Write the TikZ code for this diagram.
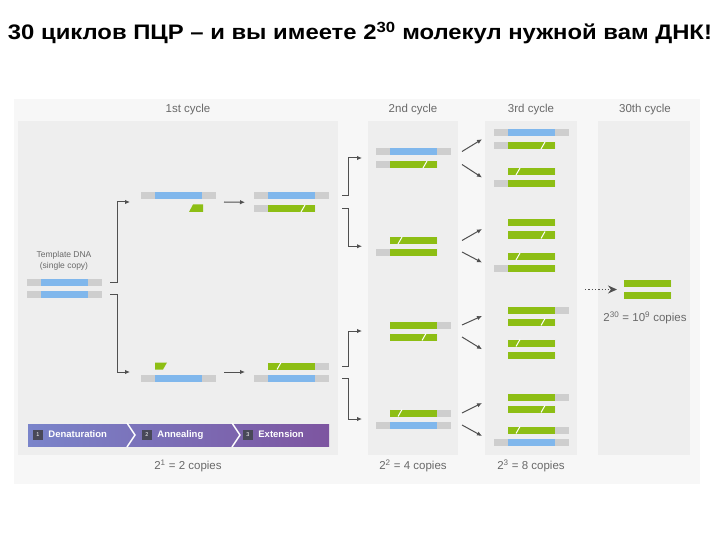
\documentclass[tikz,border=0pt]{standalone}
\usepackage{fontspec}
\setmainfont{Liberation Sans}
\usepackage{tikz}
\usetikzlibrary{arrows.meta, calc, positioning}

\definecolor{dnablue}{RGB}{128,183,236}
\definecolor{dnagreen}{RGB}{141,190,20}
\definecolor{padgray}{RGB}{206,206,206}
\definecolor{panelgray}{RGB}{238,238,238}
\definecolor{bggray}{RGB}{247,247,247}
\definecolor{textgray}{RGB}{105,105,105}
\definecolor{linkgray}{RGB}{80,80,80}
\definecolor{stepleft}{RGB}{122,132,202}
\definecolor{stepright}{RGB}{125,85,160}
\definecolor{stepnum}{RGB}{72,72,88}

\tikzset{
	link/.style={->, >={Latex[length=5pt, width=4.5pt]}, linkgray, line width=1pt},
	panel/.style={fill=panelgray},
	cyclelabel/.style={textgray, font=\fontsize{11.5}{13}\selectfont},
	steplabel/.style={white, font=\bfseries\fontsize{9.5}{11}\selectfont, anchor=west, inner sep=0pt, text height=7pt, text depth=2pt},
	stepnumber/.style={fill=stepnum, text=white, minimum size=10pt, inner sep=0pt, font=\fontsize{5.5}{6}\selectfont},
}

\begin{document}
\begin{tikzpicture}[x=1pt, y=-1pt]

\useasboundingbox (0,0) rectangle (720,540);

% strand: name, core x, y, colour, left pad, right pad
\newcommand{\strand}[6]{%
	\fill[padgray] ({#2-#5}, {#3-3.5}) rectangle (#2, {#3+3.5});
	\fill[padgray] ({#2+47}, {#3-3.5}) rectangle ({#2+47+#6}, {#3+3.5});
	\fill[#4] (#2, {#3-3.5}) rectangle ({#2+47}, {#3+3.5});
	\coordinate (#1-w) at ({#2-14}, #3);
	\coordinate (#1-e) at ({#2+61}, #3);
}
\newcommand{\nick}[2]{\draw[white, line width=1pt] ({#1-2}, {#2+3.5}) -- ({#1+2}, {#2-3.5});}

\node[font=\bfseries\fontsize{21}{24}\selectfont, anchor=base, inner sep=0pt] (title) at (360,40) {\resizebox{704pt}{\height}{30 циклов ПЦР – и вы имеете 2\textsuperscript{30} молекул нужной вам ДНК!}};

\fill[bggray] (14,99) rectangle (700,484);
\fill[panel] (18,121) rectangle (338,455);
\fill[panel] (368,121) rectangle (458,455);
\fill[panel] (485,121) rectangle (577,455);
\fill[panel] (598,121) rectangle (690,455);

\node[cyclelabel] (c1)  at (188,110) {1st cycle};
\node[cyclelabel] (c2)  at (413,110) {2nd cycle};
\node[cyclelabel] (c3)  at (531,110) {3rd cycle};
\node[cyclelabel] (c30) at (645,110) {30th cycle};

\node[cyclelabel] (k1)  at (188,466) {2\textsuperscript{1} = 2 copies};
\node[cyclelabel] (k2)  at (413,466) {2\textsuperscript{2} = 4 copies};
\node[cyclelabel] (k3)  at (531,466) {2\textsuperscript{3} = 8 copies};
\node[cyclelabel] (k30) at (645,318) {2\textsuperscript{30} = 10\textsuperscript{9} copies};

% template
\node[textgray, font=\fontsize{8.5}{10.5}\selectfont, align=center] (tmpl) at (64,261) {Template DNA\\(single copy)};
\strand{T1}{41}{282}{dnablue}{14}{14}
\strand{T2}{41}{294}{dnablue}{14}{14}

% 1st cycle
\strand{D1}{155}{196}{dnablue}{14}{14}
\fill[dnagreen] (189,212) -- (193,204.5) -- (203,204.5) -- (203,212) -- cycle;
\coordinate (P1-w) at (141,208);
\coordinate (P1-e) at (216,208);
\fill[dnagreen] (155,362.5) -- (167,362.5) -- (163,369.5) -- (155,369.5) -- cycle;
\coordinate (P2-w) at (141,366);
\coordinate (P2-e) at (216,366);
\strand{D2}{155}{378}{dnablue}{14}{14}

\strand{E1}{268}{196}{dnablue}{14}{14}
\strand{E2}{268}{208.5}{dnagreen}{14}{0} \nick{303}{208.5}
\strand{E3}{268}{366}{dnagreen}{0}{14} \nick{279}{366}
\strand{E4}{268}{378}{dnablue}{14}{14}

% 2nd cycle
\strand{S1}{390}{151.5}{dnablue}{14}{14}
\strand{S2}{390}{164.5}{dnagreen}{14}{0} \nick{425}{164.5}
\strand{S3}{390}{240.5}{dnagreen}{0}{0} \nick{400}{240.5}
\strand{S4}{390}{252}{dnagreen}{14}{0}
\strand{S5}{390}{325}{dnagreen}{0}{14}
\strand{S6}{390}{337}{dnagreen}{0}{0} \nick{424}{337}
\strand{S7}{390}{413}{dnagreen}{0}{14} \nick{400}{413}
\strand{S8}{390}{425}{dnablue}{14}{14}

% 3rd cycle
\strand{R1}{508}{133}{dnablue}{14}{14}
\strand{R2}{508}{145.5}{dnagreen}{14}{0} \nick{543}{145.5}
\strand{R3}{508}{171.5}{dnagreen}{0}{0} \nick{518}{171.5}
\strand{R4}{508}{183.5}{dnagreen}{14}{0}
\strand{R5}{508}{223}{dnagreen}{0}{0}
\strand{R6}{508}{235}{dnagreen}{0}{0} \nick{543}{235}
\strand{R7}{508}{256.5}{dnagreen}{0}{0} \nick{518}{256.5}
\strand{R8}{508}{268.5}{dnagreen}{14}{0}
\strand{R9}{508}{310}{dnagreen}{0}{14}
\strand{R10}{508}{322}{dnagreen}{0}{0} \nick{543}{322}
\strand{R11}{508}{343}{dnagreen}{0}{0} \nick{518}{343}
\strand{R12}{508}{355.5}{dnagreen}{0}{0}
\strand{R13}{508}{397}{dnagreen}{0}{14}
\strand{R14}{508}{409}{dnagreen}{0}{0} \nick{543}{409}
\strand{R15}{508}{430}{dnagreen}{0}{14} \nick{518}{430}
\strand{R16}{508}{442}{dnablue}{14}{14}

% 30th cycle
\strand{Z1}{624}{283.5}{dnagreen}{0}{0}
\strand{Z2}{624}{295.5}{dnagreen}{0}{0}

% connectors
\draw[link] ([xshift=8pt]T1-e) -- ++(7,0) |- ($(D1-w)!.5!(P1-w)+(-11,0)$);
\draw[link] ([xshift=8pt]T2-e) -- ++(7,0) |- ($(P2-w)!.5!(D2-w)+(-11,0)$);

\draw[link] ($(D1-e)!.5!(P1-e)+(8,0)$) -- ($(E1-w)!.5!(E2-w)+(-9,0)$);
\draw[link] ($(P2-e)!.5!(D2-e)+(8,0)$) -- ($(E3-w)!.5!(E4-w)+(-9,0)$);

\draw[link] ([xshift=13pt]E1-e) -- ++(6,0) |- ($(S1-w)!.5!(S2-w)+(-14,0)$);
\draw[link] ([xshift=13pt]E2-e) -- ++(6,0) |- ($(S3-w)!.5!(S4-w)+(-14,0)$);
\draw[link] ([xshift=13pt]E3-e) -- ++(6,0) |- ($(S5-w)!.5!(S6-w)+(-14,0)$);
\draw[link] ([xshift=13pt]E4-e) -- ++(6,0) |- ($(S7-w)!.5!(S8-w)+(-14,0)$);

\foreach \s/\a/\b in {S1/R1/R2, S2/R3/R4, S3/R5/R6, S4/R7/R8, S5/R9/R10, S6/R11/R12, S7/R13/R14, S8/R15/R16}
	\draw[link] ([xshift=11pt]\s-e) -- ($(\a-w)!.5!(\b-w)+(-12,0)$);

\coordinate (dots) at (585,289.5);
\draw[linkgray, line width=1.3pt, dotted, -{Stealth[length=9pt, width=8pt]}] (dots) -- ($(Z1-w)!.5!(Z2-w)+(7,0)$);

% steps bar
\shade[left color=stepleft, right color=stepright] (28,424) rectangle (329,446);
\draw[white, line width=1.5pt] (127,423) -- (135,435) -- (127,447);
\draw[white, line width=1.5pt] (232,423) -- (240,435) -- (232,447);

\node[stepnumber] (n1) at (38,435) {1};
\node[steplabel, right=5pt of n1] (den) {Denaturation};
\node[stepnumber] (n2) at (147,435) {2};
\node[steplabel, right=5pt of n2] (ann) {Annealing};
\node[stepnumber] (n3) at (248,435) {3};
\node[steplabel, right=5pt of n3] (ext) {Extension};

\end{tikzpicture}
\end{document}
